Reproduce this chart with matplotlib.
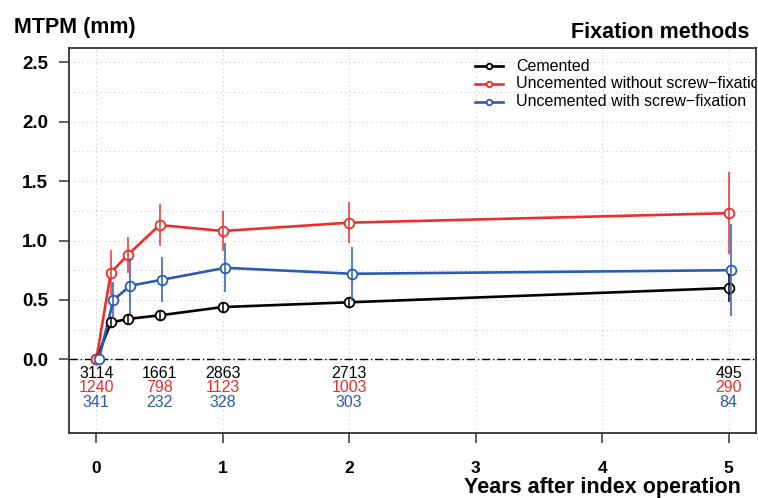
import numpy as np
import matplotlib
matplotlib.use("Agg")
import matplotlib.pyplot as plt

plt.rcParams['font.family'] = ['Liberation Sans', 'DejaVu Sans']

# follow-up times (years) and mean MTPM with error half-widths
years = [0, 0.115, 0.25, 0.5, 1, 2, 5]
cem_y = [0, 0.31, 0.34, 0.37, 0.44, 0.48, 0.60]
cem_err = [0, 0.04, 0.04, 0.04, 0.04, 0.04, 0.12]
unc_y = [0, 0.73, 0.88, 1.13, 1.08, 1.15, 1.23]
unc_err = [0, 0.19, 0.15, 0.175, 0.165, 0.175, 0.345]
scr_y = [0, 0.50, 0.62, 0.67, 0.77, 0.72, 0.75]
scr_err = [0, 0.15, 0.235, 0.19, 0.205, 0.225, 0.385]

# number of patients at each follow-up
n_years = [0, 0.5, 1, 2, 5]
cem_n = [3114, 1661, 2863, 2713, 495]
unc_n = [1240, 798, 1123, 1003, 290]
scr_n = [341, 232, 328, 303, 84]

labels = ["Cemented", "Uncemented without screw\u2212fixation",
          "Uncemented with screw\u2212fixation"]
colors = ["black", "#EE2E2A", "#2C5BB3"]
x_shift = [0, 0, 0.02]

fig = plt.figure(figsize=(7.58, 4.98), dpi=100)
ax = fig.add_axes([69/758, 65/498, 687/758, 385/498])

series = [(cem_y, cem_err), (unc_y, unc_err), (scr_y, scr_err)]
for (yv, ev), col, dx in zip(series, colors, x_shift):
    xv = np.array(years) + dx
    ax.plot(xv, yv, color=col, lw=1.9, zorder=3)
    ax.plot(xv, yv, 'o', ms=7, mfc='white', mec=col, mew=1.3, zorder=4)
    ax.errorbar(xv, yv, yerr=ev, fmt='none', ecolor=col, elinewidth=1.1,
                capsize=0, zorder=5)

ax.axhline(0, color='black', lw=1, ls=(0, (6, 2, 1, 2)), zorder=2)

for counts, col, off in zip([cem_n, unc_n, scr_n], colors, [-10, -20.5, -31]):
    for xv, n in zip(n_years, counts):
        ax.annotate(str(n), (xv, 0), xytext=(0, off), textcoords='offset points',
                    ha='center', va='center', color=col, fontsize=11.5)

# key in the top right corner, clipped by the plot frame
for i, (lab, col) in enumerate(zip(labels, colors)):
    ky = 0.953 - i * 0.0465
    ax.plot([0.591, 0.632], [ky, ky], color=col, lw=1.9, transform=ax.transAxes,
            zorder=6)
    ax.plot([0.6115], [ky], 'o', ms=4, mfc='white', mec=col, mew=1.3,
            transform=ax.transAxes, zorder=7)
    ax.text(0.651, ky, lab, transform=ax.transAxes, fontsize=11.5, ha='left',
            va='center', clip_on=True, zorder=7)

ax.set_xlim(-0.216, 5.216)
ax.set_ylim(-0.62, 2.62)
ax.set_xticks(range(6))
ax.set_yticks(np.arange(0, 2.51, 0.5))
ax.set_yticklabels([f"{v:.1f}" for v in np.arange(0, 2.51, 0.5)])
for v in np.arange(0, 2.51, 0.25):
    ax.axhline(v, color='#c8c8c8', lw=0.8, ls=(0, (1, 3)), zorder=1)
for v in range(6):
    ax.axvline(v, color='#c8c8c8', lw=0.8, ls=(0, (1, 3)), zorder=1)

ax.tick_params(axis='both', direction='out', length=7, width=1.1, color='#333333',
               labelsize=12.5)
ax.tick_params(axis='x', pad=13)
ax.tick_params(axis='y', pad=8, labelsize=13.5)
for t in ax.get_xticklabels() + ax.get_yticklabels():
    t.set_fontweight('bold')
for s in ax.spines.values():
    s.set_color('#333333')
    s.set_linewidth(1.3)

fig.text(14/758, 1 - 27/498, "MTPM (mm)", fontsize=15.5, fontweight='bold',
         ha='left', va='center')
fig.text(749/758, 1 - 33/498, "Fixation methods", fontsize=15.5, fontweight='bold',
         ha='right', va='center')
fig.text(741/758, 0.5/498, "Years after index operation", fontsize=15.5,
         fontweight='bold', ha='right', va='bottom')

fig.savefig("out.png", dpi=100)
